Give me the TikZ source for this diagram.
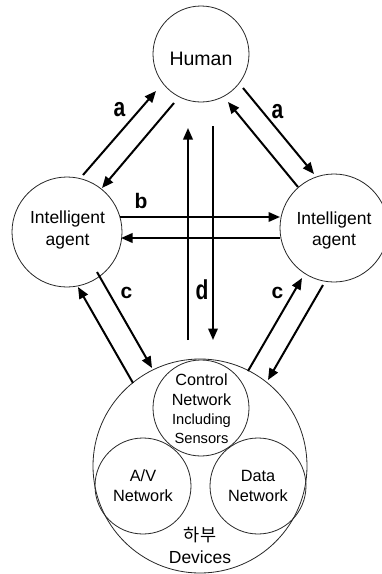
\documentclass[tikz,border=0pt]{standalone}
\usepackage{fontspec}
\setmainfont{Liberation Sans}
\newfontfamily\krfont{Noto Sans CJK KR}
\usetikzlibrary{arrows.meta}

\begin{document}
\begin{tikzpicture}[x=1pt,y=-1pt,
  ring/.style={draw=black!85, line width=0.8pt, circle, inner sep=0pt, minimum size=#1},
  flow/.style={line width=2pt, -{Triangle[length=11.5pt,width=9.5pt]}},
  tag/.style={inner sep=0pt, font=\fontsize{21}{21}\selectfont\bfseries},
  txt/.style={anchor=base, inner sep=0pt}]
\useasboundingbox (0,0) rectangle (382,574);

% circles
\node[ring=96]  (hum)  at (201,54)  {};
\node[ring=110] (iaL)  at (67,232)  {};
\node[ring=108] (iaR)  at (334,228) {};
\node[ring=214] (dev)  at (200,466) {};
\node[ring=96]  (ctl)  at (201,408) {};
\node[ring=96]  (av)   at (143,486) {};
\node[ring=96]  (dat)  at (258,486) {};

% texts
\node[txt, font=\fontsize{19.5}{19.5}\selectfont] (tHum) at (201,65) {Human};
\node[txt, font=\fontsize{17.5}{17.5}\selectfont] (tL1) at (67.5,223) {Intelligent};
\node[txt, font=\fontsize{17.5}{17.5}\selectfont] (tL2) at (67.5,245) {agent};
\node[txt, font=\fontsize{17.5}{17.5}\selectfont] (tR1) at (334,224) {Intelligent};
\node[txt, font=\fontsize{17.5}{17.5}\selectfont] (tR2) at (334,245) {agent};
\node[txt, font=\fontsize{16.2}{16.2}\selectfont] (tC1) at (201.5,385) {Control};
\node[txt, font=\fontsize{16.2}{16.2}\selectfont] (tC2) at (201.5,405) {Network};
\node[txt, font=\fontsize{14.7}{14.7}\selectfont] (tC3) at (201.5,424) {Including};
\node[txt, font=\fontsize{14.7}{14.7}\selectfont] (tC4) at (201.5,443) {Sensors};
\node[txt, font=\fontsize{16.3}{16.3}\selectfont] (tA1) at (143,481.5) {A/V};
\node[txt, font=\fontsize{16.3}{16.3}\selectfont] (tA2) at (143,501) {Network};
\node[txt, font=\fontsize{16.3}{16.3}\selectfont] (tD1) at (258,481.5) {Data};
\node[txt, font=\fontsize{16.3}{16.3}\selectfont] (tD2) at (258,501) {Network};
\node[inner sep=0pt, font=\krfont\fontsize{17.5}{17.5}\selectfont] (tKr) at (200,535) {하부};
\node[txt, font=\fontsize{17.5}{17.5}\selectfont] (tDev) at (200,563) {Devices};

% arrow end points
\coordinate (aL1s) at (83,175);  \coordinate (aL1e) at (156,91);
\coordinate (aL2s) at (174,103); \coordinate (aL2e) at (102,188);
\coordinate (aR1s) at (243,88);  \coordinate (aR1e) at (314,174);
\coordinate (aR2s) at (298,187); \coordinate (aR2e) at (228,102);
\coordinate (b1s) at (120,217);  \coordinate (b1e) at (280,217);
\coordinate (b2s) at (280,238);  \coordinate (b2e) at (121,238);
\coordinate (d1s) at (188,340);  \coordinate (d1e) at (188,128);
\coordinate (d2s) at (213,126);  \coordinate (d2e) at (213,340);
\coordinate (cL1s) at (97,272);  \coordinate (cL1e) at (152,368);
\coordinate (cL2s) at (133,383); \coordinate (cL2e) at (78,287);
\coordinate (cR1s) at (248,371); \coordinate (cR1e) at (302,278);
\coordinate (cR2s) at (323,285); \coordinate (cR2e) at (268,380);

% arrows
\draw[flow] (aL1s) -- (aL1e);
\draw[flow] (aL2s) -- (aL2e);
\draw[flow] (aR1s) -- (aR1e);
\draw[flow] (aR2s) -- (aR2e);
\draw[flow] (b1s) -- (b1e);
\draw[flow] (b2s) -- (b2e);
\draw[flow] (d1s) -- (d1e);
\draw[flow] (d2s) -- (d2e);
\draw[flow] (cL1s) -- (cL1e);
\draw[flow] (cL2s) -- (cL2e);
\draw[flow] (cR1s) -- (cR1e);
\draw[flow] (cR2s) -- (cR2e);

% arrow labels
\node[tag, yscale=1.25] (la1) at (119.5,110) {a};
\node[tag, yscale=1.25] (la2) at (277.5,111.5) {a};
\node[tag] (lb) at (141,200.5) {b};
\node[tag, yscale=1.3] (ld) at (202,290) {d};
\node[tag] (lc1) at (126.5,292.5) {c};
\node[tag] (lc2) at (277.5,292.5) {c};
\end{tikzpicture}
\end{document}
